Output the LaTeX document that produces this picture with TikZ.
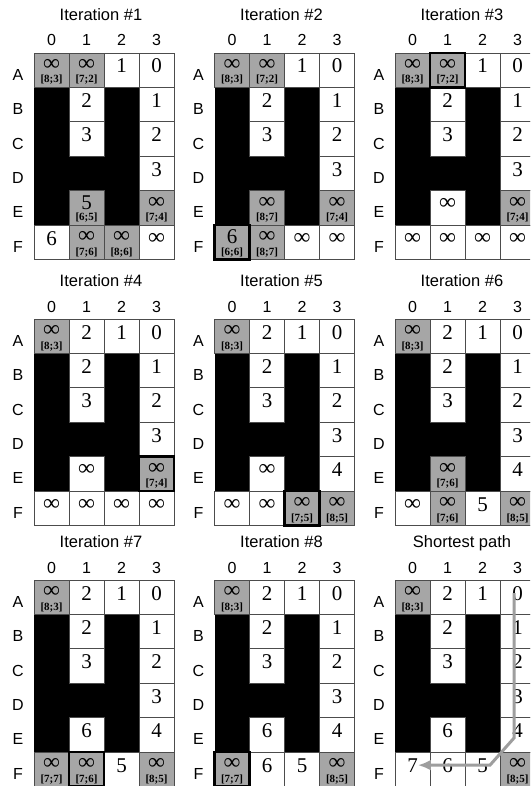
\documentclass[tikz,border=0pt]{standalone}
\usepackage{fontspec}
\setmainfont{Liberation Serif}
\setsansfont{Liberation Sans}
\usetikzlibrary{arrows.meta}
\newcommand{\inftxt}{{\fontsize{23}{23}\selectfont\bfseries\raisebox{1pt}{∞}}}

\begin{document}
\begin{tikzpicture}[x=1pt, y=-1pt, >={Latex[length=13pt,width=11pt]},
  wall/.style={fill=black},
  free/.style={fill=white, draw=black!70, line width=0.9pt},
  open/.style={fill=black!35, draw=black!70, line width=0.9pt},
  cur/.style={draw=black, line width=2.8pt},
  val/.style={anchor=base, inner sep=0pt, font=\fontsize{21}{21}\selectfont},
  lab/.style={anchor=base, inner sep=0pt, font=\fontsize{11}{11}\selectfont\bfseries},
  ttl/.style={anchor=base, font=\sffamily\fontsize{16.5}{16.5}\selectfont},
  axl/.style={anchor=base, font=\sffamily\fontsize{16}{16}\selectfont},
  route/.style={->, draw=black!38, line width=3pt}]
  \useasboundingbox (0,0) rectangle (530,786);
  \clip (0,0) rectangle (530,786);

  % 1. 九个面板：网格、墙、标签和数值
  \foreach \px/\py/\t/\g/\w [count=\k] in {
    34/53/{Iteration \#1}/{0/1/\inftxt/7;2, 4/1/5/6;5, 4/3/\inftxt/7;4, 5/1/\inftxt/7;6, 5/2/\inftxt/8;6}/{5/0/6, 5/3/\inftxt},
    214.5/53/{Iteration \#2}/{0/1/\inftxt/7;2, 4/1/\inftxt/8;7, 4/3/\inftxt/7;4, 5/0/6/6;6, 5/1/\inftxt/8;7}/{5/2/\inftxt, 5/3/\inftxt},
    395/53/{Iteration \#3}/{0/1/\inftxt/7;2, 4/3/\inftxt/7;4}/{4/1/\inftxt, 5/0/\inftxt, 5/1/\inftxt, 5/2/\inftxt, 5/3/\inftxt},
    34/319/{Iteration \#4}/{4/3/\inftxt/7;4}/{0/1/2, 4/1/\inftxt, 5/0/\inftxt, 5/1/\inftxt, 5/2/\inftxt, 5/3/\inftxt},
    214.5/319/{Iteration \#5}/{5/2/\inftxt/7;5, 5/3/\inftxt/8;5}/{0/1/2, 4/1/\inftxt, 4/3/4, 5/0/\inftxt, 5/1/\inftxt},
    395/319/{Iteration \#6}/{4/1/\inftxt/7;6, 5/1/\inftxt/7;6, 5/3/\inftxt/8;5}/{0/1/2, 4/3/4, 5/0/\inftxt, 5/2/5},
    34/580/{Iteration \#7}/{5/0/\inftxt/7;7, 5/1/\inftxt/7;6, 5/3/\inftxt/8;5}/{0/1/2, 4/1/6, 4/3/4, 5/2/5},
    214.5/580/{Iteration \#8}/{5/0/\inftxt/7;7, 5/3/\inftxt/8;5}/{0/1/2, 4/1/6, 4/3/4, 5/1/6, 5/2/5},
    395/580/{Shortest path}/{5/3/\inftxt/8;5}/{0/1/2, 4/1/6, 4/3/4, 5/0/7, 5/1/6, 5/2/5}} {
    \begin{scope}[shift={(\px,\py)}]
      \node[ttl] (t\k) at (67,-32.5) {\t};
      \foreach \c in {0,...,3} \node[axl] (c\k-\c) at (35*\c+17.5,-7) {\c};
      \foreach \r/\n in {0/A,1/B,2/C,3/D,4/E,5/F} \node[axl] (r\k-\r) at (-16,34.4*\r+27.3) {\n};
      \fill[wall] (0,34.4) rectangle (105,172);
      \foreach \r/\c in {0/1,0/2,0/3,1/1,1/3,2/1,2/3,3/3,4/1,4/3,5/0,5/1,5/2,5/3}
        \draw[free] (35*\c,34.4*\r) rectangle ++(35,34.4);
      \foreach \r/\c/\v/\l in {0/0/\inftxt/8;3} {
        \draw[open] (35*\c,34.4*\r) rectangle ++(35,34.4);
        \node[val] (v\k-\r\c) at (35*\c+17.5,34.4*\r+18.5) {\v};
        \node[lab] (l\k-\r\c) at (35*\c+17.5,34.4*\r+30) {[\l]};}
      \foreach \r/\c/\v in {0/2/1, 0/3/0, 1/1/2, 1/3/1, 2/1/3, 2/3/2, 3/3/3}
        \node[val] (v\k-\r\c) at (35*\c+17.5,34.4*\r+20) {\v};
      % 已访问（灰色）格子
      \foreach \r/\c/\v/\l in \g {
        \draw[open] (35*\c,34.4*\r) rectangle ++(35,34.4);
        \node[val] (v\k-\r\c) at (35*\c+17.5,34.4*\r+18.5) {\v};
        \node[lab] (l\k-\r\c) at (35*\c+17.5,34.4*\r+30) {[\l]};}
      \foreach \r/\c/\v in \w
        \node[val] (v\k-\r\c) at (35*\c+17.5,34.4*\r+20) {\v};
    \end{scope}
  }

  % 2. 当前格子的粗框
  \foreach \px/\py/\r/\c in {214.5/53/5/0, 395/53/0/1, 34/319/4/3, 214.5/319/5/2, 34/580/5/1, 214.5/580/5/0}
    \draw[cur] (\px+35*\c,\py+34.4*\r) rectangle ++(35,34.4);

  % 3. 最短路径
  \coordinate (bend1) at (514,738);
  \coordinate (bend2) at (490,763);
  \draw[route] ([xshift=-3.5pt]v9-03.center) -- (bend1) -- (bend2 |- v9-50.east) -- (v9-50.east);
\end{tikzpicture}
\end{document}
